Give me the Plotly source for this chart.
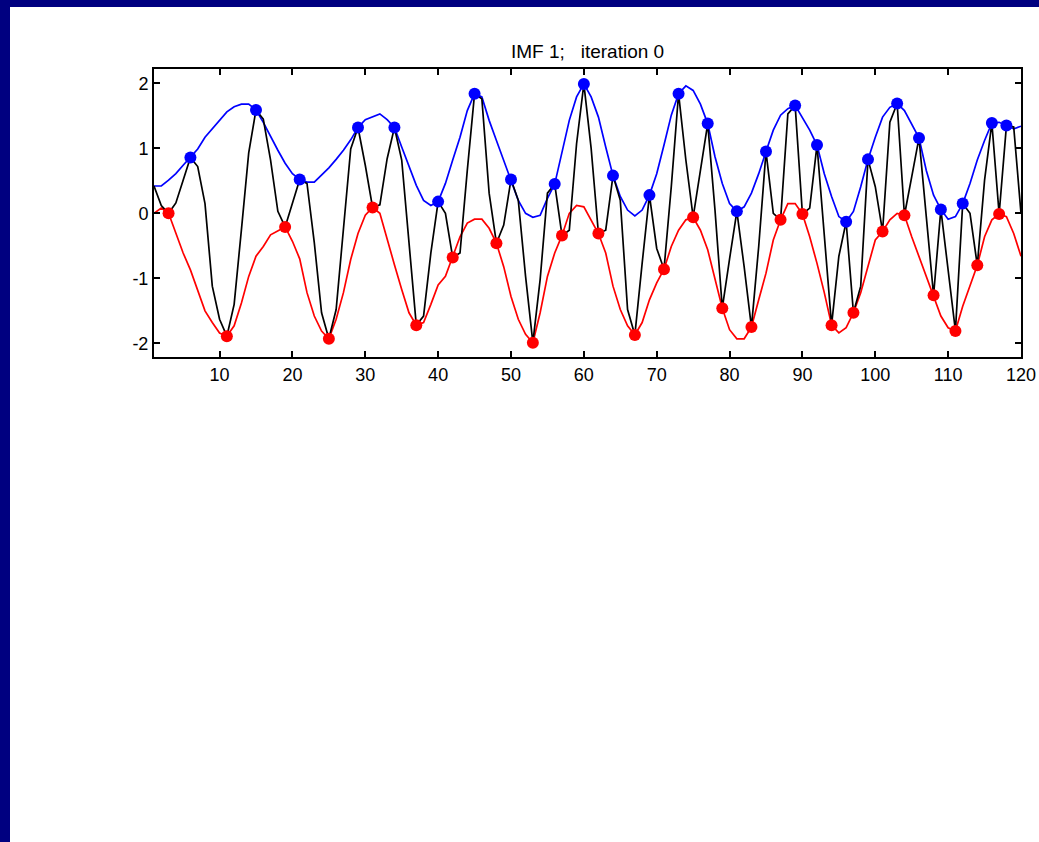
import plotly.graph_objects as go

# sample index
n = list(range(1, 121))

# signal being sifted
signal = [
    0.42, 0.12, 0.00, 0.16, 0.51, 0.86, 0.72, 0.15, -1.12, -1.63,
    -1.89, -1.40, -0.25, 0.93, 1.59, 1.45, 0.82, 0.03, -0.21, 0.15,
    0.52, 0.46, -0.45, -1.53, -1.93, -1.48, -0.20, 0.99, 1.32, 0.74,
    0.09, 0.13, 0.84, 1.32, 0.82, -0.45, -1.72, -1.58, -0.61, 0.18,
    0.00, -0.68, -0.61, 0.66, 1.84, 1.76, 0.31, -0.46, -0.18, 0.52,
    0.20, -0.97, -1.99, -1.02, 0.31, 0.45, -0.34, -0.26, 1.07, 1.99,
    1.00, -0.31, -0.26, 0.58, 0.20, -1.48, -1.87, -0.77, 0.28, -0.54,
    -0.86, 0.41, 1.84, 0.82, -0.06, 0.66, 1.38, 0.05, -1.46, -0.70,
    0.03, -0.82, -1.75, -0.51, 0.95, 0.00, -0.10, 1.53, 1.66, -0.01,
    0.08, 1.05, -0.31, -1.72, -0.66, -0.13, -1.53, -1.12, 0.83, 0.41,
    -0.28, 1.40, 1.69, -0.03, 0.56, 1.16, -0.05, -1.26, 0.06, -0.87,
    -1.81, 0.15, 0.00, -0.80, 0.51, 1.39, -0.01, 1.35, 1.33, 0.00,
]

# upper envelope
upper_env = [
    0.42, 0.42, 0.51, 0.61, 0.74, 0.86, 0.99, 1.17, 1.30, 1.44,
    1.56, 1.64, 1.68, 1.68, 1.59, 1.40, 1.18, 0.97, 0.77, 0.61,
    0.52, 0.48, 0.48, 0.59, 0.70, 0.83, 0.97, 1.13, 1.32, 1.44,
    1.49, 1.53, 1.44, 1.32, 1.02, 0.71, 0.43, 0.20, 0.12, 0.18,
    0.46, 0.82, 1.17, 1.58, 1.84, 1.79, 1.43, 1.12, 0.82, 0.52,
    0.20, 0.00, -0.06, -0.03, 0.23, 0.45, 0.92, 1.43, 1.79, 1.99,
    1.79, 1.48, 1.02, 0.58, 0.26, 0.05, -0.04, 0.05, 0.28, 0.61,
    1.05, 1.51, 1.84, 1.96, 1.89, 1.68, 1.38, 0.87, 0.46, 0.15,
    0.03, 0.10, 0.31, 0.61, 0.95, 1.28, 1.51, 1.61, 1.66, 1.48,
    1.28, 1.05, 0.61, 0.26, -0.05, -0.13, 0.03, 0.41, 0.83, 1.17,
    1.48, 1.63, 1.69, 1.58, 1.38, 1.16, 0.66, 0.28, 0.06, -0.09,
    -0.05, 0.15, 0.46, 0.82, 1.12, 1.39, 1.40, 1.35, 1.30, 1.34,
]

# lower envelope
lower_env = [
    0.00, 0.08, 0.00, -0.31, -0.61, -0.87, -1.17, -1.50, -1.68, -1.84,
    -1.89, -1.73, -1.38, -0.97, -0.66, -0.51, -0.33, -0.27, -0.21, -0.43,
    -0.70, -1.22, -1.58, -1.81, -1.93, -1.63, -1.22, -0.71, -0.31, -0.03,
    0.09, 0.00, -0.41, -0.79, -1.17, -1.53, -1.72, -1.68, -1.40, -1.10,
    -0.97, -0.68, -0.36, -0.15, -0.09, -0.09, -0.23, -0.46, -0.82, -1.28,
    -1.63, -1.86, -1.99, -1.53, -0.97, -0.61, -0.34, 0.00, 0.12, 0.10,
    -0.10, -0.31, -0.61, -1.12, -1.48, -1.73, -1.87, -1.68, -1.33, -1.07,
    -0.86, -0.51, -0.26, -0.10, -0.06, -0.26, -0.56, -1.02, -1.46, -1.79,
    -1.93, -1.93, -1.75, -1.33, -0.92, -0.41, -0.10, 0.15, 0.15, -0.01,
    -0.36, -0.77, -1.22, -1.72, -1.84, -1.76, -1.53, -1.22, -0.82, -0.41,
    -0.28, -0.10, 0.00, -0.03, -0.36, -0.66, -0.97, -1.26, -1.58, -1.76,
    -1.81, -1.43, -1.12, -0.80, -0.36, -0.10, -0.01, -0.05, -0.31, -0.66,
]

# sample indices of the local maxima and minima
max_idx = [6, 15, 21, 29, 34, 40, 45, 50, 56, 60, 64, 69, 73, 77, 81, 85,
           89, 92, 96, 99, 103, 106, 109, 112, 116, 118]
min_idx = [3, 11, 19, 25, 31, 37, 42, 48, 53, 57, 62, 67, 71, 75, 79, 83,
           87, 90, 94, 97, 101, 104, 108, 111, 114, 117]

max_val = [signal[i - 1] for i in max_idx]
min_val = [signal[i - 1] for i in min_idx]

x_ticks = [10, 20, 30, 40, 50, 60, 70, 80, 90, 100, 110, 120]
y_ticks = [-2, -1, 0, 1, 2]
y_tick_text = ["-2", "-1", "0", "1", "2"]

FONT = "Liberation Sans, Arial, sans-serif"
NAVY = "#000080"

fig = go.Figure()
fig.add_trace(go.Scatter(x=n, y=upper_env, mode="lines",
                         line=dict(color="#0000ff", width=1.7)))
fig.add_trace(go.Scatter(x=n, y=lower_env, mode="lines",
                         line=dict(color="#ff0000", width=1.7)))
fig.add_trace(go.Scatter(x=n, y=signal, mode="lines",
                         line=dict(color="#000000", width=1.7)))
fig.add_trace(go.Scatter(x=max_idx, y=max_val, mode="markers",
                         marker=dict(color="#0000ff", size=12, line=dict(width=0))))
fig.add_trace(go.Scatter(x=min_idx, y=min_val, mode="markers",
                         marker=dict(color="#ff0000", size=12, line=dict(width=0))))

axis_common = dict(
    showgrid=False, zeroline=False, showline=True, linecolor="black",
    linewidth=2, mirror="ticks", ticks="inside", ticklen=6, tickwidth=1.5,
    tickcolor="black", automargin=False,
    tickfont=dict(family=FONT, size=18, color="black"),
)

L, R, T, B = 154, 18, 69, 485
W, H = 1039, 842
pw, ph = W - L - R, H - T - B

fig.update_layout(
    template="none",
    width=W, height=H, autosize=False,
    margin=dict(l=L, r=R, t=T, b=B, pad=0),
    paper_bgcolor=NAVY, plot_bgcolor="white",
    showlegend=False,
    xaxis=dict(range=[1, 120], tickvals=x_ticks, **axis_common),
    yaxis=dict(range=[-2.21, 2.22], tickvals=y_ticks, ticktext=y_tick_text,
               **axis_common),
    shapes=[dict(
        type="rect", xref="paper", yref="paper", layer="below",
        x0=(10 - L) / pw, x1=(W + 20 - L) / pw,
        y0=-(H + 20 - T - ph) / ph, y1=1 + (T - 7) / ph,
        fillcolor="white", line=dict(width=0),
    )],
    annotations=[dict(
        text="IMF 1;\u00a0\u00a0\u00a0iteration 0", xref="paper", yref="paper",
        x=0.5, y=1, xanchor="center", yanchor="bottom", yshift=5,
        showarrow=False, font=dict(family=FONT, size=19, color="black"),
    )],
)

fig.write_html("out.html")
